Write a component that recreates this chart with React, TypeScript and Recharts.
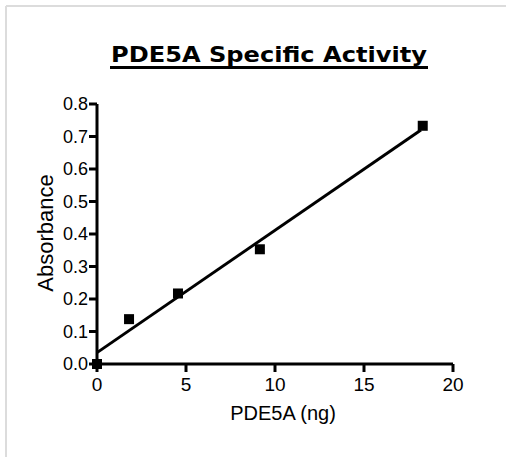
import React from 'react';
import { ScatterChart, Scatter, XAxis, YAxis } from 'recharts';

const doseNg = [0, 1.8, 4.55, 9.15, 18.3];
const absorbance = [0, 0.138, 0.217, 0.353, 0.733];
const fitDose = [0, 18.2];
const fitAbsorbance = [0.035, 0.72];
const xTicks = [0, 5, 10, 15, 20];
const yTicks = [0, 0.1, 0.2, 0.3, 0.4, 0.5, 0.6, 0.7, 0.8];
const titleText = 'PDE5A Specific Activity';
const xLabel = 'PDE5A (ng)';
const yLabel = 'Absorbance';

const points = doseNg.map((x, i) => ({ x, y: absorbance[i] }));
const fit = fitDose.map((x, i) => ({ x, y: fitAbsorbance[i] }));

const W = 506;
const H = 457;
const FONT = '"Liberation Sans", Arial, sans-serif';

const Square = (props: any) => {
  const { cx, cy } = props;
  if (cx == null || cy == null) return null;
  return <rect x={cx - 5} y={cy - 5} width={10} height={10} fill="#000" />;
};

const NoShape = () => null;

const YTitle = (props: any) => {
  const vb = props.viewBox || {};
  const x = 45;
  const y = vb.y + vb.height / 2 - 1;
  return (
    <text
      x={x}
      y={y}
      transform={`rotate(-90, ${x}, ${y})`}
      textAnchor="middle"
      dominantBaseline="central"
      fontFamily={FONT}
      fontSize={22}
      fill="#000"
    >
      {yLabel}
    </text>
  );
};

const XTitle = () => {
  return (
    <text
      x={283}
      y={413}
      textAnchor="middle"
      dominantBaseline="central"
      fontFamily={FONT}
      fontSize={20}
      fill="#000"
    >
      {xLabel}
    </text>
  );
};

export default function App() {
  return (
    <div style={{ position: 'absolute', left: 0, top: 0, width: W, height: H, background: '#fff' }}>
      <svg width={W} height={H} style={{ position: 'absolute', left: 0, top: 0 }}>
        <line x1={6} y1={6} x2={W} y2={6} stroke="#dcdcdc" strokeWidth={2} />
        <line x1={6} y1={6} x2={6} y2={H} stroke="#dcdcdc" strokeWidth={2} />
        <text
          x={269}
          y={62}
          textAnchor="middle"
          fontFamily='"DejaVu Sans", Verdana, sans-serif'
          fontWeight="bold"
          fontSize={22}
          textLength={316}
          lengthAdjust="spacingAndGlyphs"
          fill="#000"
        >
          {titleText}
        </text>
        <line x1={110} y1={67.5} x2={428} y2={67.5} stroke="#000" strokeWidth={3} />
      </svg>
      <div style={{ position: 'absolute', left: 0, top: 0 }}>
        <ScatterChart
          width={W}
          height={H}
          margin={{ top: 104, right: 53, bottom: 43, left: 37 }}
        >
          <XAxis
            type="number"
            dataKey="x"
            domain={[0, 20]}
            ticks={xTicks}
            interval={0}
            height={50}
            axisLine={{ stroke: '#000', strokeWidth: 3 }}
            tickLine={{ stroke: '#000', strokeWidth: 3 }}
            tickSize={8}
            tickMargin={6}
            tick={{ fill: '#000', fontSize: 19, fontFamily: FONT }}
            label={<XTitle />}
          />
          <YAxis
            type="number"
            dataKey="y"
            domain={[0, 0.8]}
            ticks={yTicks}
            interval={0}
            width={60}
            axisLine={{ stroke: '#000', strokeWidth: 3 }}
            tickLine={{ stroke: '#000', strokeWidth: 3 }}
            tickSize={8}
            tickMargin={1}
            tickFormatter={(v: number) => v.toFixed(1)}
            tick={{ fill: '#000', fontSize: 18, fontFamily: FONT }}
            label={<YTitle />}
          />
          <Scatter
            data={fit}
            line={{ stroke: '#000', strokeWidth: 3 }}
            shape={<NoShape />}
            isAnimationActive={false}
          />
          <Scatter data={points} shape={<Square />} isAnimationActive={false} />
        </ScatterChart>
      </div>
    </div>
  );
}
